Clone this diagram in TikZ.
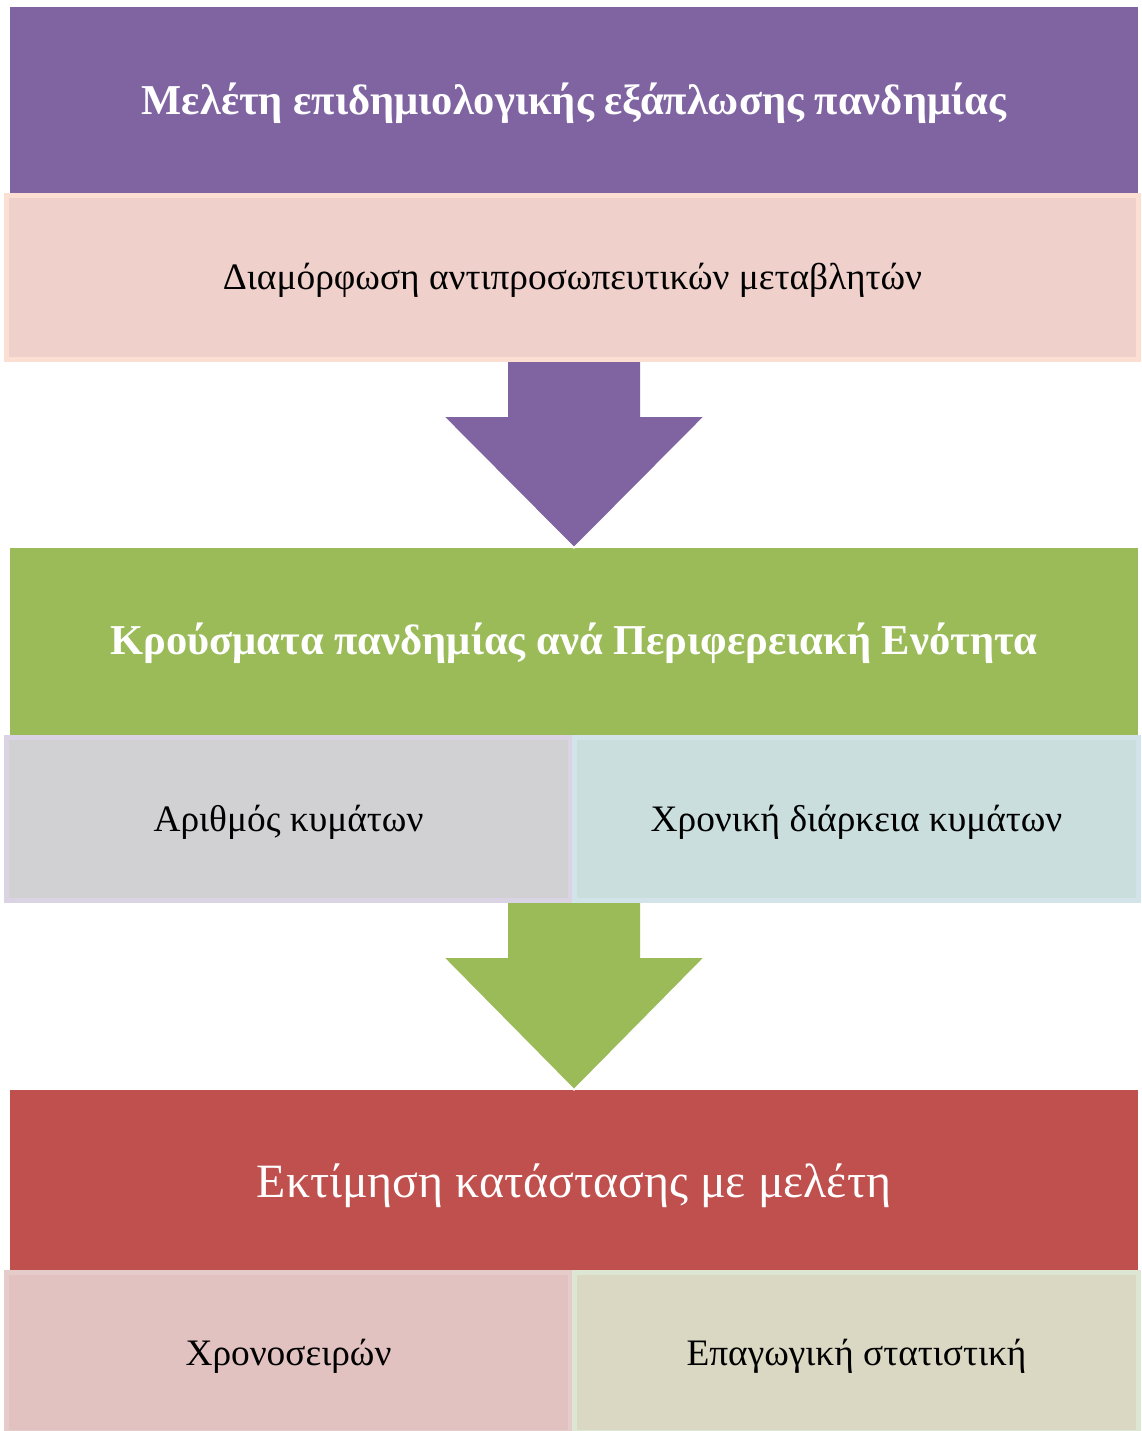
\documentclass[tikz,border=0pt]{standalone}
\usepackage{fontspec}
\setmainfont{Liberation Serif}
\definecolor{cPurple}{HTML}{8064A2}
\definecolor{cGreen}{HTML}{9BBB59}
\definecolor{cRed}{HTML}{C0504D}
\definecolor{cPink}{HTML}{EFD0CB}
\definecolor{cPinkB}{HTML}{FCDFD2}
\definecolor{cGray}{HTML}{D1D1D4}
\definecolor{cGrayB}{HTML}{DAD3E3}
\definecolor{cBlue}{HTML}{CADFDD}
\definecolor{cBlueB}{HTML}{D2E4EA}
\definecolor{cRose}{HTML}{E1C2C1}
\definecolor{cRoseB}{HTML}{E6CBCB}
\definecolor{cKhaki}{HTML}{DAD8C3}
\definecolor{cKhakiB}{HTML}{DDE6D3}
\tikzset{
  headbox/.style={rectangle, inner sep=0pt, draw=none},
  subbox/.style={rectangle, inner sep=0pt, line width=5bp},
  headtext/.style={inner sep=0pt, text=white, font=\fontsize{42.7}{48}\selectfont\bfseries},
  subtext/.style={inner sep=0pt, text=black, font=\fontsize{37.5}{42}\selectfont}
}
\begin{document}
\begin{tikzpicture}[x=1bp,y=-1bp]
\useasboundingbox (0,0) rectangle (1141,1431);
\fill[white] (0,0) rectangle (1141,1431);
% level 1
\node[headbox, fill=cPurple, minimum width=1128bp, minimum height=186bp] (h1) at (574,100) {};
\node[subbox, fill=cPink, draw=cPinkB, minimum width=1132bp, minimum height=164bp] (s1) at (572.5,277.5) {};
% level 2
\node[headbox, fill=cGreen, minimum width=1128bp, minimum height=187bp] (h2) at (574,641.5) {};
\node[subbox, fill=cGray, draw=cGrayB, minimum width=563bp, minimum height=163bp] (s2a) at (288.5,819) {};
\node[subbox, fill=cBlue, draw=cBlueB, minimum width=564bp, minimum height=163bp] (s2b) at (856.5,819) {};
% level 3
\node[headbox, fill=cRed, minimum width=1128bp, minimum height=180bp] (h3) at (574,1180) {};
\node[subbox, fill=cRose, draw=cRoseB, minimum width=563bp, minimum height=160bp] (s3a) at (288.5,1352.5) {};
\node[subbox, fill=cKhaki, draw=cKhakiB, minimum width=564bp, minimum height=160bp] (s3b) at (856.5,1352.5) {};
% texts
\node[headtext, yshift=-3bp] (t1) at (h1.center) {Μελέτη επιδημιολογικής εξάπλωσης πανδημίας};
\node[subtext, yshift=-3bp] (u1) at (s1.center) {Διαμόρφωση αντιπροσωπευτικών μεταβλητών};
\node[headtext, yshift=-2bp] (t2) at (h2.center) {Κρούσματα πανδημίας ανά Περιφερειακή Ενότητα};
\node[subtext, yshift=-3.5bp] (u2a) at (s2a.center) {Αριθμός κυμάτων};
\node[subtext, yshift=-3.5bp] (u2b) at (s2b.center) {Χρονική διάρκεια κυμάτων};
\node[headtext, font=\fontsize{48}{54}\selectfont, yshift=-6bp] (t3) at (h3.center) {Εκτίμηση κατάστασης με μελέτη};
\node[subtext, yshift=-4bp] (u3a) at (s3a.center) {Χρονοσειρών};
\node[subtext, yshift=-4bp] (u3b) at (s3b.center) {Επαγωγική στατιστική};
% arrows
\coordinate (a1b) at (h2.north);
\fill[cPurple] (508,362) -- (640,362) -- (640,417) -- (704,417) -- (a1b) -- (444,417) -- (508,417) -- cycle;
\draw[white, line width=1.5bp] (704,417) -- (a1b) -- (444,417);
\coordinate (a2b) at (h3.north);
\fill[cGreen] (508,903) -- (640,903) -- (640,958) -- (704,958) -- (a2b) -- (444,958) -- (508,958) -- cycle;
\draw[white, line width=1.5bp] (704,958) -- (a2b) -- (444,958);
\end{tikzpicture}
\end{document}
